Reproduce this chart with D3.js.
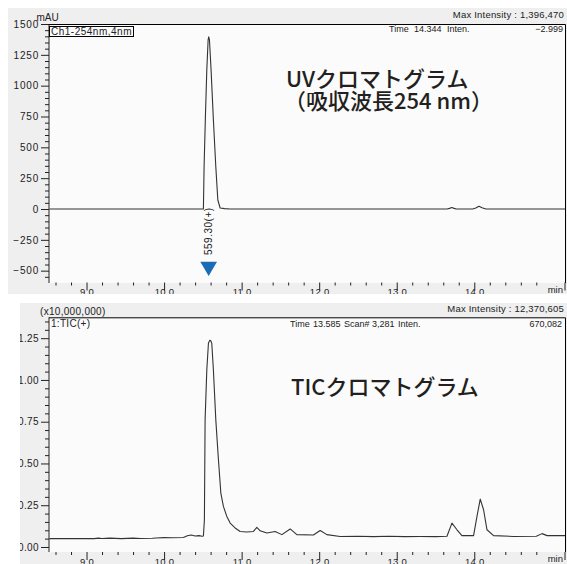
<!DOCTYPE html>
<html><head><meta charset="utf-8">
<script src="https://cdn.jsdelivr.net/npm/d3@7"></script>
<style>
html,body{margin:0;padding:0;background:#fff;}
svg text{font-family:"Liberation Sans",Arial,sans-serif;}
</style></head>
<body>
<svg id="c" width="567" height="564"></svg>
<script>
// ---- data ----
const uvTime   = [8.52,10.0,10.49,10.507,10.516,10.533,10.551,10.568,10.576,10.585,10.606,10.636,10.667,10.693,10.723,10.78,10.852,13.65,13.68,13.71,13.74,13.77,13.98,14.02,14.06,14.10,14.15,15.17];
const uvSignal = [0,0,0,0,343,749,1128,1372,1396,1372,1128,722,343,73,8,3,0,0,5,12,5,0,0,8,22,10,0,0];

const ticTime   = [8.52,8.9,9.1,9.15,9.2,9.3,9.45,9.6,9.7,9.85,9.9,10.0,10.1,10.25,10.3,10.35,10.4,10.45,10.49,10.507,10.520,10.529,10.551,10.572,10.588,10.600,10.615,10.636,10.667,10.701,10.732,10.765,10.809,10.852,10.916,10.981,11.067,11.152,11.196,11.239,11.325,11.432,11.519,11.626,11.712,11.926,12.013,12.099,12.271,12.5,12.7,12.9,13.1,13.3,13.5,13.648,13.712,13.777,13.841,13.991,14.035,14.077,14.120,14.164,14.249,14.507,14.80,14.874,14.939,15.17];
const ticSignal = [0.050,0.050,0.050,0.053,0.051,0.053,0.050,0.053,0.051,0.052,0.054,0.056,0.055,0.057,0.067,0.072,0.066,0.068,0.064,0.066,0.163,0.761,1.06,1.22,1.237,1.236,1.22,1.06,0.761,0.522,0.323,0.243,0.183,0.143,0.114,0.093,0.090,0.093,0.117,0.097,0.084,0.093,0.074,0.108,0.074,0.072,0.099,0.074,0.063,0.064,0.062,0.064,0.062,0.063,0.062,0.064,0.143,0.103,0.068,0.068,0.183,0.287,0.223,0.103,0.068,0.063,0.064,0.080,0.068,0.068];

const xMajor = [9,10,11,12,13,14];
const xLabels = ["9.0","10.0","11.0","12.0","13.0","14.0"];
const uvMajor = [-500,-250,0,250,500,750,1000,1250,1500];
const ticMajor = [0,0.25,0.5,0.75,1.0,1.25];
const ticLabels = ["0.00","0.25","0.50","0.75","1.00","1.25"];

const uvTitle1 = "UVクロマトグラム";
const uvTitle2 = "（吸収波長254 nm）";
const ticTitle = "TICクロマトグラム";
const uvPeakLabel = "559.30(+)";
const uvPeakTime = 10.575;

// ---- layout ----
const svg = d3.select("#c");
const X0 = 49, X1 = 565;
const x = d3.scaleLinear().domain([8.516, 15.17]).range([X0, X1]);
const xMinor = d3.range(8.6, 15.2, 0.2).map(v => +v.toFixed(1)).filter(v => Math.abs(v - Math.round(v)) > 0.01);

const smallFont = "10px", infoFont = "9px";
const gray = "#efefef", plotBg = "#fbfbfb", ink = "#222";

function panel(cfg) {
  const g = svg.append("g");
  const clipId = "clip" + cfg.id;
  svg.append("defs").append("clipPath").attr("id", clipId)
    .append("rect").attr("x", cfg.left).attr("y", cfg.top).attr("width", 567 - cfg.left).attr("height", cfg.bottom - cfg.top);
  const pg = g.append("g").attr("clip-path", `url(#${clipId})`);
  pg.append("rect").attr("x", cfg.left).attr("y", cfg.top).attr("width", 567 - cfg.left).attr("height", cfg.bottom - cfg.top).attr("fill", gray);
  const [yb, yt] = cfg.y.range();
  pg.append("rect").attr("x", X0).attr("y", yt).attr("width", X1 - X0).attr("height", yb - yt).attr("fill", plotBg);

  // x axis (ticks only)
  const xa = pg.append("g").attr("transform", `translate(0,${cfg.xAxisY})`)
    .call(d3.axisBottom(x).tickValues(xMajor).tickSize(8).tickPadding(-2).tickFormat((d, i) => xLabels[i]));
  xa.select(".domain").remove();
  xa.selectAll("text").attr("font-size", "9.5px").attr("fill", ink).style("font-family", "Liberation Sans, Arial, sans-serif").attr("letter-spacing", "0.3px");
  xa.selectAll("line").attr("stroke", ink);
  const xm = pg.append("g").attr("transform", `translate(0,${cfg.xAxisY})`)
    .call(d3.axisBottom(x).tickValues(xMinor).tickSize(3).tickFormat(""));
  xm.select(".domain").remove();
  xm.selectAll("line").attr("stroke", ink);
  pg.append("text").attr("x", 563).attr("y", cfg.xAxisY + 10).attr("text-anchor", "end").attr("font-size", "9.5px").attr("fill", ink).text("min");
  pg.append("line").attr("x1", X1).attr("x2", X1).attr("y1", cfg.xAxisY).attr("y2", cfg.xAxisY + 8).attr("stroke", ink);

  // y axis
  const ya = pg.append("g").attr("transform", `translate(${X0},0)`)
    .call(d3.axisLeft(cfg.y).tickValues(cfg.major).tickSize(8).tickPadding(2).tickFormat(cfg.fmt));
  ya.selectAll("text").attr("font-size", smallFont).attr("fill", ink).attr("letter-spacing", cfg.ls);
  ya.selectAll("line").attr("stroke", ink);
  ya.select(".domain").attr("stroke", ink).attr("d", `M0,${yb}V${yt}`);
  const ym = pg.append("g").attr("transform", `translate(${X0},0)`)
    .call(d3.axisLeft(cfg.y).tickValues(cfg.minor).tickSize(4).tickFormat(""));
  ym.select(".domain").remove();
  ym.selectAll("line").attr("stroke", ink);

  // frame top/right
  pg.append("path").attr("d", `M${X0},${yt+0.5}H${X1+0.5}V${yb}`).attr("fill", "none").attr("stroke", "#000").attr("stroke-width", 1);

  // trace
  const line = d3.line().x((d, i) => x(cfg.t[i])).y(d => cfg.y(d));
  pg.append("path").datum(cfg.v).attr("d", line).attr("fill", "none").attr("stroke", "#333").attr("stroke-width", 1.1).attr("stroke-linejoin", "round");
  return pg;
}

function info(p, items, yy) {
  items.forEach(([s, xx, a]) => {
    p.append("text").attr("x", xx).attr("y", yy).attr("text-anchor", a).attr("font-size", infoFont).attr("fill", ink).text(s);
  });
}

// ---- UV panel ----
const yUV = d3.scaleLinear().domain([-600, 1500]).range([283, 24]);
const uvMinor = d3.range(-550, 1500, 50).filter(v => v % 250 !== 0);
const pUV = panel({id: "uv", left: 8, top: 8, bottom: 294, y: yUV, major: uvMajor, minor: uvMinor, ls: "0.8px",
  fmt: d => (d < 0 ? "\u2212" + Math.abs(d) : String(d)), xAxisY: 282.5, t: uvTime, v: uvSignal});

pUV.append("text").attr("x", 47.5).attr("y", 20.5).attr("text-anchor", "middle").attr("font-size", smallFont).attr("fill", ink).text("mAU");
pUV.append("rect").attr("x", 49.5).attr("y", 26.5).attr("width", 84).attr("height", 10).attr("fill", "none").attr("stroke", "#000");
pUV.append("text").attr("x", 51).attr("y", 35).attr("font-size", smallFont).attr("fill", ink).attr("letter-spacing", "0.5px").text("Ch1-254nm,4nm");
pUV.append("text").attr("x", 564).attr("y", 18).attr("text-anchor", "end").attr("font-size", "9.5px").attr("fill", ink).attr("letter-spacing", "0.2px").text("Max Intensity : 1,396,470");
info(pUV, [["Time", 389, "start"], ["14.344", 414, "start"], ["Inten.", 447, "start"], ["\u22122.999", 563, "end"]], 32);

// peak annotation
const px = x(uvPeakTime);
pUV.append("text").attr("transform", `translate(${px + 3.5},255) rotate(-90)`).attr("font-size", smallFont).attr("fill", ink).attr("letter-spacing", "0.5px").text(uvPeakLabel);
pUV.append("path").attr("d", d3.symbol().type(d3.symbolTriangle).size(120)())
  .attr("transform", `translate(${px},266.5) rotate(180)`).attr("fill", "#1c6bb5");

// titles
const big = {"font-family": "Noto Sans CJK JP", "font-size": "22px", "font-weight": 500, fill: "#231f20"};
function bigText(p, lines) {
  const t = p.append("text");
  Object.entries(big).forEach(([k, v]) => t.style(k, v));
  lines.forEach(([s, xx, yy]) => t.append("tspan").attr("x", xx).attr("y", yy).text(s));
}
bigText(pUV, [[uvTitle1, 286, 87], [uvTitle2, 284, 109]]);

// ---- TIC panel ----
const yTIC = d3.scaleLinear().domain([-0.03, 1.375]).range([552, 317.3]);
const ticMinor = d3.range(0.05, 1.375, 0.05).map(v => +v.toFixed(2)).filter(v => Math.abs(v / 0.25 - Math.round(v / 0.25)) > 0.01);
const pTIC = panel({id: "tic", left: 20, top: 303, bottom: 564, y: yTIC, major: ticMajor, minor: ticMinor, ls: "0.4px",
  fmt: (d, i) => ticLabels[i], xAxisY: 552, t: ticTime, v: ticSignal});

pTIC.append("text").attr("x", 40).attr("y", 315).attr("font-size", smallFont).attr("fill", ink).attr("letter-spacing", "0.3px").text("(x10,000,000)");
pTIC.append("text").attr("x", 51).attr("y", 326.5).attr("font-size", smallFont).attr("fill", ink).attr("letter-spacing", "0.3px").text("1:TIC(+)");
pTIC.append("text").attr("x", 564).attr("y", 312).attr("text-anchor", "end").attr("font-size", "9.5px").attr("fill", ink).attr("letter-spacing", "0.2px").text("Max Intensity : 12,370,605");
info(pTIC, [["Time", 290, "start"], ["13.585", 313, "start"], ["Scan#", 344, "start"], ["3,281", 372, "start"], ["Inten.", 398, "start"], ["670,082", 562, "end"]], 327);
bigText(pTIC, [[ticTitle, 291, 395]]);
</script>
</body></html>
